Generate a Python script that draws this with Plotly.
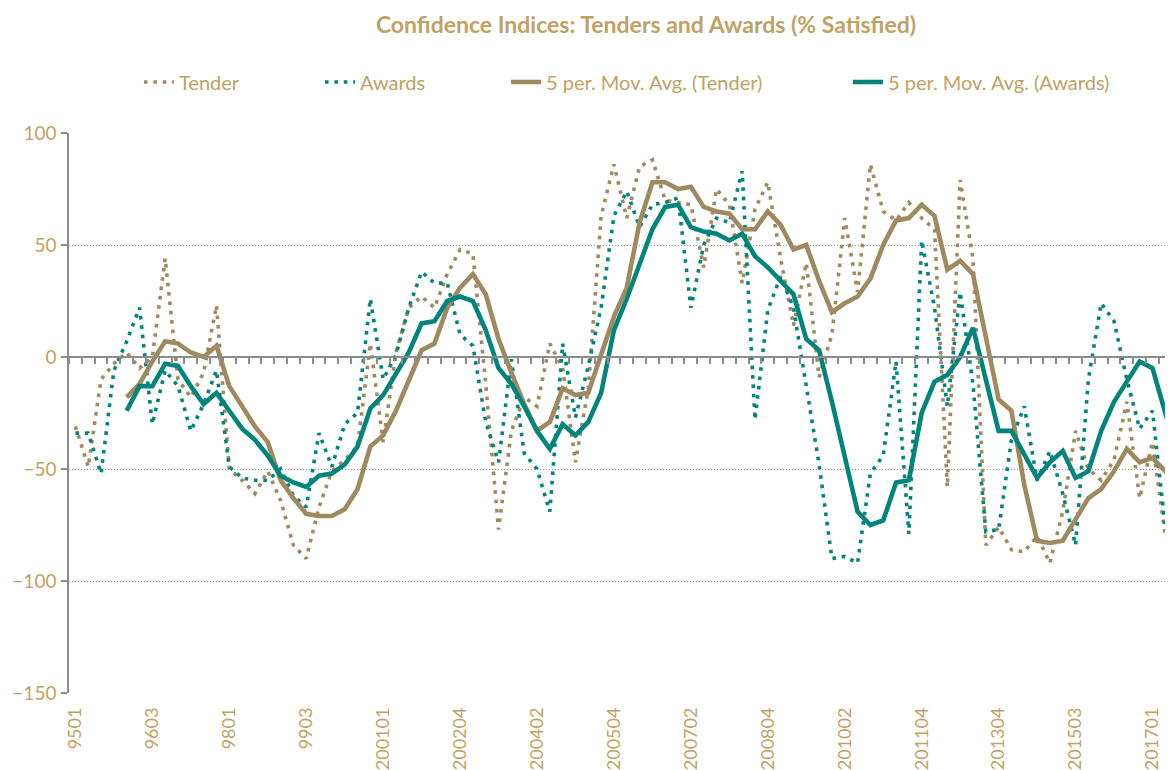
import plotly.graph_objects as go

# ---------------- data (quarterly survey, category axis) ----------------
tick_labels = ["9501", "9603", "9801", "9903", "200101", "200204", "200402",
               "200504", "200702", "200804", "201002", "201104", "201304",
               "201503", "201701"]

tender = [-31, -49, -10, -3, 2, -5, 0, 44, -10, -18,
          -7, 23, -50, -55, -61, -51, -64, -84, -90, -67,
          -51, -46, -40, 6, -38, 2, 22, 27, 22, 37,
          48, 46, -12, -77, -33, -18, -22, 6, -5, -47,
          -14, 63, 86, 62, 85, 88, 70, 69, 68, 40,
          75, 68, 33, 66, 78, 44, 14, 42, -9, 10,
          62, 29, 86, 65, 61, 69, 62, 57, -58, 79,
          44, -84, -76, -86, -87, -80, -92, -69, -33, -50,
          -55, -46, -20, -63, -38, -80, -92]

awards = [-34, -34, -52, -6, 7, 22, -30, -6, -13, -33,
          -21, -6, -49, -54, -55, -55, -50, -62, -67, -34,
          -49, -30, -25, 26, -10, 1, 22, 38, 33, 33,
          10, 5, -29, -47, -1, -43, -50, -69, 6, -27,
          -4, 22, 63, 74, 58, 68, 69, 71, 22, 50,
          62, 60, 83, -28, 21, 36, 22, -13, -48, -90,
          -89, -92, -52, -44, -2, -79, 52, 22, -22, 29,
          -12, -78, -77, -37, -22, -55, -42, -61, -84, -10,
          24, 16, -10, -32, -24, -76, -88]

ma_tender = [None, None, None, None, -18, -12, -2, 7, 6, 2,
             0, 5, -13, -22, -31, -38, -55, -63, -70, -71,
             -71, -68, -59, -40, -35, -24, -11, 3, 6, 22,
             31, 37, 28, 8, -7, -21, -33, -29, -14, -17,
             -16, 1, 18, 31, 60, 78, 78, 75, 76, 67,
             65, 64, 57, 57, 65, 59, 48, 50, 34, 20,
             24, 27, 35, 50, 61, 62, 68, 63, 39, 43,
             37, 9, -19, -24, -57, -82, -83, -82, -72, -63,
             -59, -51, -41, -47, -45, -51, -58]

ma_awards = [None, None, None, None, -24, -13, -13, -3, -4, -13,
             -21, -16, -24, -32, -37, -44, -53, -56, -58, -53,
             -52, -48, -40, -23, -17, -7, 2, 15, 16, 25,
             27, 25, 12, -5, -12, -22, -33, -41, -30, -35,
             -29, -16, 12, 26, 41, 57, 67, 68, 58, 56,
             55, 52, 55, 45, 40, 34, 28, 8, 3, -20,
             -45, -69, -75, -73, -56, -55, -25, -11, -8, 0,
             13, -11, -33, -33, -43, -54, -47, -42, -54, -51,
             -33, -20, -11, -2, -5, -25, -45]

label_step = 6

# ---------------- styling ----------------
GOLD = "#9E8A5E"
TEAL = "#00847C"
TEXT_GOLD = "#BFA264"
GRID = "#9A9A9A"
AXIS = "#8C8C8C"
FONT = "Lato"
DOT = "3.6px,5.8px"

x = list(range(len(tender)))
tickvals = [label_step * k for k in range(len(tick_labels))]
boundaries = [k - 0.5 for k in range(len(tender) + 1)]
x_range = [-0.5, 85.6]

fig = go.Figure()
fig.add_trace(go.Scatter(x=x, y=tender, mode="lines", name="Tender",
                         line=dict(color=GOLD, width=3.6, dash=DOT),
                         xaxis="x", yaxis="y", legend="legend"))
fig.add_trace(go.Scatter(x=x, y=awards, mode="lines", name="Awards",
                         line=dict(color=TEAL, width=3.6, dash=DOT),
                         xaxis="x", yaxis="y", legend="legend2"))
fig.add_trace(go.Scatter(x=x, y=ma_tender, mode="lines",
                         name="5 per. Mov. Avg. (Tender)",
                         line=dict(color=GOLD, width=4.6),
                         xaxis="x2", yaxis="y", legend="legend3"))
fig.add_trace(go.Scatter(x=x, y=ma_awards, mode="lines",
                         name="5 per. Mov. Avg. (Awards)",
                         line=dict(color=TEAL, width=4.6),
                         xaxis="x2", yaxis="y", legend="legend4"))

legend_common = dict(orientation="h", yanchor="middle", xanchor="left",
                     xref="container", yref="container",
                     y=0.9029, bgcolor="rgba(0,0,0,0)",
                     font=dict(family=FONT, size=20, color=TEXT_GOLD))

# The page body adds an 8 px offset, so the figure is sized 8 px smaller.
fig.update_layout(
    width=1165, height=762,
    showlegend=True,
    margin=dict(l=61, r=0, t=125, b=77, autoexpand=False),
    paper_bgcolor="white", plot_bgcolor="white",
    title=dict(text="<b>Confidence Indices: Tenders and Awards (% Satisfied)</b>",
               x=0.5476, xref="container", xanchor="center",
               y=0.9777, yref="container", yanchor="middle",
               font=dict(family=FONT, size=23, color=TEXT_GOLD)),
    legend=dict(legend_common, x=0.1124),
    legend2=dict(legend_common, x=0.2678),
    legend3=dict(legend_common, x=0.4275),
    legend4=dict(legend_common, x=0.721),
    xaxis=dict(range=x_range, tickmode="array", tickvals=tickvals,
               ticktext=tick_labels, tickangle=-90, showgrid=False,
               showline=False, zeroline=False, ticks="",
               ticklabelstandoff=10, automargin=False,
               tickfont=dict(family=FONT, size=18, color=TEXT_GOLD)),
    xaxis2=dict(range=x_range, overlaying="x", anchor="free", position=0.6,
                showline=True, linecolor=AXIS, linewidth=1.5,
                ticks="outside", ticklen=6, tickwidth=1.5, tickcolor=AXIS,
                tickmode="array", tickvals=boundaries, automargin=False,
                showticklabels=False, showgrid=False, zeroline=False),
    yaxis=dict(range=[-150, 100], tickmode="array",
               tickvals=[-150, -100, -50, 0, 50, 100],
               showgrid=True, gridcolor=GRID, gridwidth=1, griddash="1px,2px",
               showline=True, linecolor=AXIS, linewidth=1.5,
               ticks="outside", ticklen=6, tickwidth=1.5, tickcolor=AXIS,
               zeroline=False, ticklabelstandoff=1, automargin=False,
               tickfont=dict(family=FONT, size=19, color=TEXT_GOLD)),
)

fig.write_html("out.html")
